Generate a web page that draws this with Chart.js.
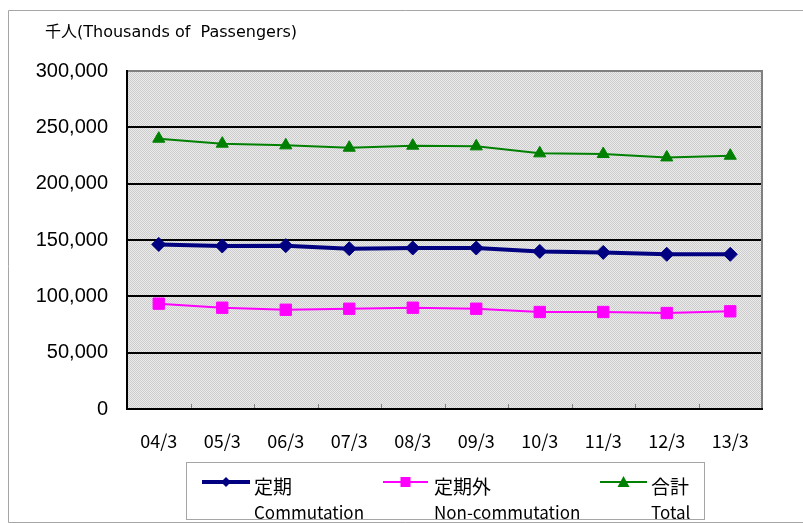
<!DOCTYPE html>
<html>
<head>
<meta charset="utf-8">
<script src="https://cdn.jsdelivr.net/npm/chart.js@4.4.1/dist/chart.umd.min.js"></script>
<style>
html,body{margin:0;padding:0;background:#fff;}
#wrap{position:relative;width:803px;height:523px;}
</style>
</head>
<body>
<div id="wrap"><canvas id="c" width="803" height="523"></canvas></div>
<script>
// ---- data ----
const categories = ['04/3','05/3','06/3','07/3','08/3','09/3','10/3','11/3','12/3','13/3'];
const commutation = [146100, 144700, 145000, 142300, 142900, 142900, 139900, 139000, 137300, 137300];
const nonCommutation = [93500, 89900, 88100, 89000, 89900, 89000, 86100, 86100, 85200, 86700];
const total = [239900, 235500, 234000, 231900, 233700, 233100, 226900, 226300, 223300, 224800];
const seriesNamesJa = ['定期', '定期外', '合計'];
const seriesNamesEn = ['Commutation', 'Non-commutation', 'Total'];
const yTickValues = [0, 50000, 100000, 150000, 200000, 250000, 300000];
const unitTitle = '千人(Thousands of  Passengers)';

const colors = ['#000080', '#FF00FF', '#008000'];

function makePattern(ctx){
  const p = document.createElement('canvas');
  p.width = 2; p.height = 2;
  const g = p.getContext('2d');
  g.fillStyle = '#ececec'; g.fillRect(0,0,2,2);
  g.fillStyle = '#cbcbcb'; g.fillRect(0,0,1,1); g.fillRect(1,1,1,1);
  return ctx.createPattern(p, 'repeat');
}

const framePlugin = {
  id: 'frame',
  beforeDraw(chart){
    const ctx = chart.ctx, a = chart.chartArea;
    ctx.save();
    ctx.fillStyle = '#fff';
    ctx.fillRect(0,0,chart.width,chart.height);
    // outer frame
    ctx.strokeStyle = '#a6a6a6'; ctx.lineWidth = 1;
    ctx.beginPath();
    ctx.moveTo(803, 10.5); ctx.lineTo(8.5, 10.5); ctx.lineTo(8.5, 522.5); ctx.lineTo(803, 522.5);
    ctx.stroke();
    // plot background
    ctx.fillStyle = makePattern(ctx);
    ctx.fillRect(a.left, a.top, a.right - a.left, a.bottom - a.top);
    // title
    ctx.fillStyle = '#000';
    ctx.font = '16px "DejaVu Sans", "Noto Sans CJK JP"';
    ctx.textBaseline = 'middle'; ctx.textAlign = 'left';
    ctx.fillText(unitTitle, 45, 33);
    ctx.restore();
  },
  beforeDatasetsDraw(chart){
    const ctx = chart.ctx, a = chart.chartArea;
    ctx.save();
    // inner tick marks at category boundaries
    ctx.strokeStyle = '#808080'; ctx.lineWidth = 1;
    const n = categories.length;
    const w = (a.right - a.left) / n;
    ctx.beginPath();
    for (let i = 1; i < n; i++){
      const px = Math.round(a.left + w * i) + 0.5;
      ctx.moveTo(px, a.bottom); ctx.lineTo(px, a.bottom - 5);
    }
    ctx.stroke();
    // border
    ctx.lineWidth = 2;
    ctx.strokeStyle = '#808080';
    ctx.beginPath();
    ctx.moveTo(a.left, a.top); ctx.lineTo(a.right, a.top); ctx.lineTo(a.right, a.bottom);
    ctx.stroke();
    ctx.strokeStyle = '#000';
    ctx.beginPath();
    ctx.moveTo(a.left, a.top - 1); ctx.lineTo(a.left, a.bottom); ctx.lineTo(a.right + 1, a.bottom);
    ctx.stroke();
    ctx.restore();
  },
  afterDraw(chart){
    const ctx = chart.ctx;
    ctx.save();
    // legend box
    ctx.strokeStyle = '#a6a6a6'; ctx.lineWidth = 1;
    ctx.strokeRect(186.5, 462.5, 518, 57);
    const items = [
      {x0:202, x1:250, tx:254},
      {x0:383, x1:428, tx:434},
      {x0:600, x1:647, tx:651}
    ];
    const ly = 482;
    chart.data.datasets.forEach((ds, i) => {
      const it = items[i];
      ctx.strokeStyle = ds.borderColor;
      ctx.lineWidth = i === 0 ? 4 : 2;
      ctx.beginPath(); ctx.moveTo(it.x0, ly); ctx.lineTo(it.x1, ly); ctx.stroke();
      const cx = (it.x0 + it.x1) / 2;
      ctx.fillStyle = ds.borderColor;
      ctx.beginPath();
      if (i === 0){
        ctx.moveTo(cx - 5, ly); ctx.lineTo(cx, ly - 5); ctx.lineTo(cx + 5, ly); ctx.lineTo(cx, ly + 5);
      } else if (i === 1){
        ctx.rect(cx - 5, ly - 5, 10, 10);
      } else {
        ctx.moveTo(cx - 6, ly + 5); ctx.lineTo(cx, ly - 6); ctx.lineTo(cx + 6, ly + 5);
      }
      ctx.closePath(); ctx.fill();
      ctx.fillStyle = '#000';
      ctx.textAlign = 'left'; ctx.textBaseline = 'middle';
      ctx.font = '19px "Noto Sans CJK JP"';
      ctx.fillText(seriesNamesJa[i], it.tx, 487);
      ctx.font = '17px "Noto Sans CJK JP"';
      ctx.fillText(seriesNamesEn[i], it.tx, 513);
    });
    ctx.restore();
  }
};

const ctx = document.getElementById('c').getContext('2d');
new Chart(ctx, {
  type: 'line',
  data: {
    labels: categories,
    datasets: [
      {label: seriesNamesEn[0], data: commutation, borderColor: colors[0], backgroundColor: colors[0],
       borderWidth: 4, pointStyle: 'rectRot', pointRadius: 7, pointBorderWidth: 1, pointHoverRadius: 7},
      {label: seriesNamesEn[1], data: nonCommutation, borderColor: colors[1], backgroundColor: colors[1],
       borderWidth: 2, pointStyle: 'rect', pointRadius: 8, pointBorderWidth: 1, pointHoverRadius: 8},
      {label: seriesNamesEn[2], data: total, borderColor: colors[2], backgroundColor: colors[2],
       borderWidth: 2, pointStyle: 'triangle', pointRadius: 7, pointBorderWidth: 1, pointHoverRadius: 7}
    ]
  },
  options: {
    responsive: false,
    animation: false,
    layout: {padding: {left: 0, right: 41, top: 71, bottom: 0}},
    plugins: {legend: {display: false}, tooltip: {enabled: false}},
    elements: {line: {tension: 0}},
    scales: {
      x: {
        offset: true,
        grid: {display: false, drawTicks: false},
        border: {display: false},
        ticks: {color: '#000', padding: 21, font: {family: '"Noto Sans CJK JP"', size: 18}, maxRotation: 0, autoSkip: false},
        afterFit(s){ s.height = 114; }
      },
      y: {
        min: 0, max: 300000,
        afterBuildTicks(s){ s.ticks = yTickValues.map(v => ({value: v})); },
        grid: {
          drawTicks: false,
          color: c => (c.tick && (c.tick.value === 0 || c.tick.value === 300000)) ? 'rgba(0,0,0,0)' : '#000',
          lineWidth: 2
        },
        border: {display: false},
        ticks: {
          color: '#000', padding: 19,
          font: {family: '"Liberation Sans", Arial', size: 20},
          callback: v => v.toLocaleString('en-US')
        },
        afterFit(s){ s.width = 127; }
      }
    }
  },
  plugins: [framePlugin]
});
</script>
</body>
</html>
